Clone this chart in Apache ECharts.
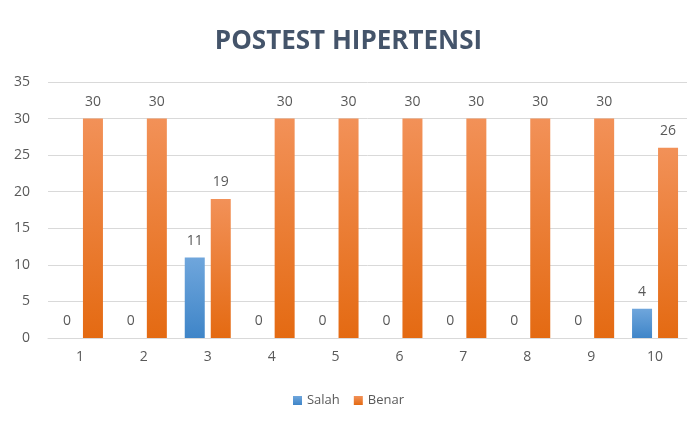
<!DOCTYPE html>
<html>
<head>
<meta charset="utf-8">
<script src="https://cdn.jsdelivr.net/npm/echarts@6/dist/echarts.min.js"></script>
<style>
  html, body { margin: 0; padding: 0; background: #fff; }
  #chart { width: 697px; height: 430px; }
</style>
</head>
<body>
<div id="chart"></div>
<script>
var categories = ['1', '2', '3', '4', '5', '6', '7', '8', '9', '10'];
var salah = [0, 0, 11, 0, 0, 0, 0, 0, 0, 4];
var benar = [30, 30, 19, 30, 30, 30, 30, 30, 30, 26];

var chart = echarts.init(document.getElementById('chart'));

function grad(top, bottom) {
    return new echarts.graphic.LinearGradient(0, 0, 0, 1, [
        {offset: 0, color: top},
        {offset: 1, color: bottom}
    ]);
}

var labelStyle = {
    show: true,
    position: 'top',
    color: '#595959',
    fontSize: 14,
    distance: 10
};

var option = {
    backgroundColor: '#fff',
    textStyle: { fontFamily: 'Open Sans' },
    title: {
        text: 'POSTEST HIPERTENSI',
        left: 'center',
        top: 24,
        textStyle: {
            color: '#44546A',
            fontSize: 26,
            fontWeight: 'bold',
            fontFamily: 'Open Sans'
        }
    },
    legend: {
        bottom: 18,
        left: 'center',
        itemWidth: 9,
        itemHeight: 9,
        itemGap: 14,
        icon: 'rect',
        textStyle: { color: '#595959', fontSize: 13 },
        data: ['Salah', 'Benar']
    },
    grid: {
        left: 48,
        right: 10,
        top: 82,
        bottom: 92
    },
    xAxis: {
        type: 'category',
        data: categories,
        axisLine: { lineStyle: { color: '#D9D9D9' } },
        axisTick: { show: false },
        axisLabel: { color: '#595959', fontSize: 14, margin: 12 }
    },
    yAxis: {
        type: 'value',
        min: 0,
        max: 35,
        interval: 5,
        axisLine: { show: false },
        axisTick: { show: false },
        axisLabel: { color: '#595959', fontSize: 14, margin: 18 },
        splitLine: { lineStyle: { color: '#D9D9D9' } }
    },
    series: [
        {
            name: 'Salah',
            type: 'bar',
            data: salah,
            barWidth: 20,
            barGap: '30%',
            itemStyle: { color: grad('#6FA6DC', '#3F85C8') },
            label: labelStyle
        },
        {
            name: 'Benar',
            type: 'bar',
            data: benar,
            barWidth: 20,
            itemStyle: { color: grad('#F29158', '#E46A12') },
            label: labelStyle
        }
    ]
};

chart.setOption(option);
</script>
</body>
</html>
